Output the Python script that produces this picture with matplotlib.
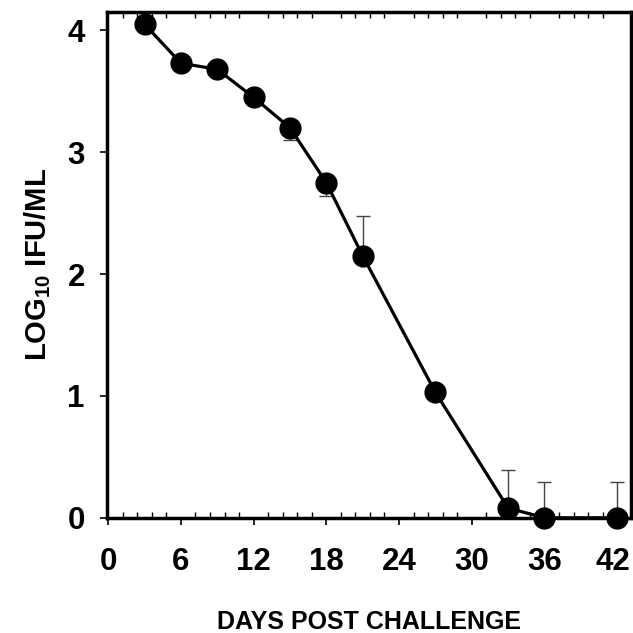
import matplotlib
matplotlib.use("Agg")
import matplotlib.pyplot as plt
import matplotlib.transforms as mtransforms
from matplotlib.ticker import MultipleLocator

plt.rcParams['font.family'] = ['Liberation Sans', 'DejaVu Sans']
plt.rcParams['font.weight'] = 'bold'
plt.rcParams['mathtext.fontset'] = 'custom'
plt.rcParams['mathtext.rm'] = 'Liberation Sans:bold'
plt.rcParams['mathtext.default'] = 'rm'

days = [3, 6, 9, 12, 15, 18, 21, 27, 33, 36, 42]
log_ifu = [4.05, 3.73, 3.68, 3.45, 3.20, 2.75, 2.15, 1.03, 0.08, 0.0, 0.0]
err_up = [0, 0, 0, 0, 0, 0, 0.33, 0, 0.31, 0.29, 0.29]
err_down = [0, 0, 0, 0, 0.10, 0.11, 0, 0, 0, 0, 0]

fig = plt.figure(figsize=(6.33, 6.33), dpi=100)
ax = fig.add_axes([0.169, 0.182, 0.828, 0.799])

# error bars first, drawn thin and grey behind the markers
ax.errorbar(days, log_ifu, yerr=[err_down, err_up], fmt='none', ecolor='#444444',
            elinewidth=1.0, capsize=5, capthick=1.0, zorder=2, clip_on=False)
ax.plot(days, log_ifu, color='black', linewidth=2.3, marker='o', markersize=15,
        markerfacecolor='black', markeredgecolor='black', zorder=3, clip_on=False)

ax.set_xlim(-0.1, 43.15)
ax.set_ylim(0, 4.15)
ax.set_xticks(range(0, 43, 6))
ax.set_yticks([0, 1, 2, 3, 4])
ax.xaxis.set_minor_locator(MultipleLocator(1.2))

for s in ax.spines.values():
    s.set_linewidth(2.5)

ax.tick_params(which='major', direction='out', length=5, width=1.2,
               labelsize=22.5, top=False, right=False)
ax.tick_params(axis='x', which='major', pad=16)
ax.tick_params(axis='y', which='major', pad=11)
ax.tick_params(axis='x', which='minor', direction='in', length=4, width=1.0,
               top=True, bottom=True)

# last x label sits against the figure edge, nudge it left a little
last = ax.get_xticklabels()[-1]
last.set_transform(last.get_transform() +
                   mtransforms.ScaledTranslation(-4 / 100, 0, fig.dpi_scale_trans))

ax.set_xlabel('DAYS POST CHALLENGE', fontsize=18, fontweight='bold', labelpad=24)
ax.set_ylabel('LOG$_{10}$ IFU/ML', fontsize=21, fontweight='bold', labelpad=10)

fig.savefig('out.png', dpi=100)
